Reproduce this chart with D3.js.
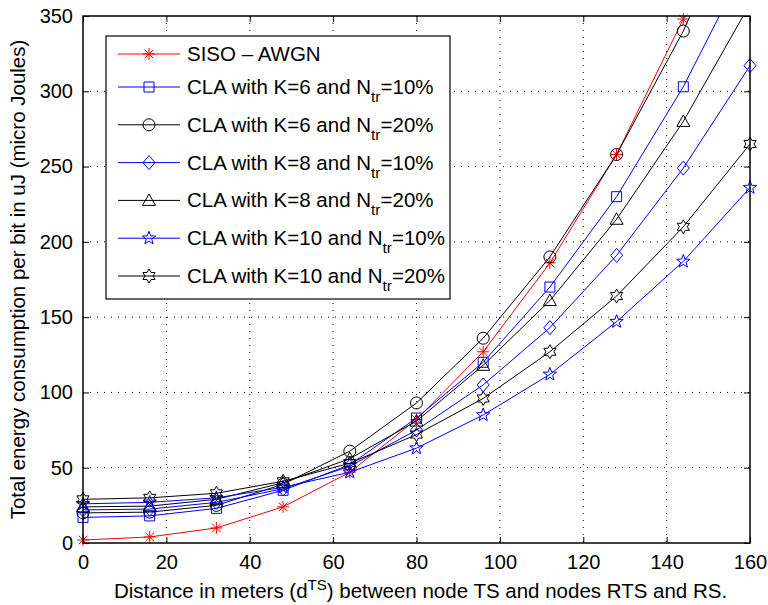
<!DOCTYPE html>
<html>
<head>
<meta charset="utf-8">
<script src="https://cdn.jsdelivr.net/npm/d3@7"></script>
<style>
  body { margin: 0; background: #fff; }
  svg { display: block; }
  text { font-family: "Liberation Sans", Arial, Helvetica, sans-serif; fill: #000; }
</style>
</head>
<body>
<div id="chart"></div>
<script>
// Energy per bit vs TS distance: SISO baseline plus six CLA configurations
// (K = 6/8/10 cooperating nodes, N_tr = 10%/20% training overhead).

const DISTANCES = [0, 16, 32, 48, 64, 80, 96, 112, 128, 144, 160];

const SISO_AWGN = [2, 4, 10, 24, 47, 82, 127, 186, 258, 348, 460];
const K6_N10 = [17, 18, 23, 35, 52, 83, 120, 170, 230, 303, 390];
const K6_N20 = [20, 20.5, 25, 39, 61, 93, 136, 190, 258, 340, 440];
const K8_N10 = [22, 22.5, 27, 36, 51, 75, 105, 143, 191, 249, 317];
const K8_N20 = [24, 24.5, 29, 40, 56, 81, 118, 161, 215, 280, 358];
const K10_N10 = [26, 27, 30, 37, 47, 63, 85, 112, 147, 187, 236];
const K10_N20 = [29, 30, 33, 41, 53, 72, 96, 127, 164, 210, 265];

const X_TICKS = [0, 20, 40, 60, 80, 100, 120, 140, 160];
const Y_TICKS = [0, 50, 100, 150, 200, 250, 300, 350];

const SERIES = [
  { label: 'SISO – AWGN', values: SISO_AWGN, color: '#ff0000', marker: 'asterisk' },
  { label: 'CLA with K=6 and N', sub: 'tr', tail: '=10%', values: K6_N10, color: '#0000ff', marker: 'square' },
  { label: 'CLA with K=6 and N', sub: 'tr', tail: '=20%', values: K6_N20, color: '#000000', marker: 'circle' },
  { label: 'CLA with K=8 and N', sub: 'tr', tail: '=10%', values: K8_N10, color: '#0000ff', marker: 'diamond' },
  { label: 'CLA with K=8 and N', sub: 'tr', tail: '=20%', values: K8_N20, color: '#000000', marker: 'triangle' },
  { label: 'CLA with K=10 and N', sub: 'tr', tail: '=10%', values: K10_N10, color: '#0000ff', marker: 'pentagram' },
  { label: 'CLA with K=10 and N', sub: 'tr', tail: '=20%', values: K10_N20, color: '#000000', marker: 'hexagram' },
];

const width = 768;
const height = 605;
const margin = { top: 16, right: 18, bottom: 62, left: 83 };
const innerW = width - margin.left - margin.right;
const innerH = height - margin.top - margin.bottom;

const svg = d3.select('#chart').append('svg').attr('width', width).attr('height', height);
const g = svg.append('g').attr('transform', `translate(${margin.left},${margin.top})`);

const x = d3.scaleLinear().domain([0, 160]).range([0, innerW]);
const y = d3.scaleLinear().domain([0, 350]).range([innerH, 0]);

svg.append('defs').append('clipPath').attr('id', 'plot-clip')
  .append('rect').attr('width', innerW).attr('height', innerH);

// dotted grid, MATLAB style
const grid = g.append('g').attr('stroke', '#000').attr('stroke-width', 1).attr('stroke-dasharray', '1,6');
X_TICKS.slice(1, -1).forEach((t) => {
  grid.append('line').attr('x1', x(t)).attr('x2', x(t)).attr('y1', 0).attr('y2', innerH);
});
Y_TICKS.slice(1, -1).forEach((t) => {
  grid.append('line').attr('x1', 0).attr('x2', innerW).attr('y1', y(t)).attr('y2', y(t));
});

// axes with inward ticks on all four sides
const tickLen = 6;
const axisStyle = (sel) => {
  sel.select('.domain').remove();
  sel.selectAll('.tick line').attr('stroke', '#000').attr('stroke-width', 1);
  sel.selectAll('.tick text').style('font-size', '20px').attr('fill', '#000');
};
g.append('g').attr('transform', `translate(0,${innerH})`)
  .call(d3.axisBottom(x).tickValues(X_TICKS).tickSizeInner(-tickLen).tickSizeOuter(0).tickPadding(12))
  .call(axisStyle);
g.append('g')
  .call(d3.axisLeft(y).tickValues(Y_TICKS).tickSizeInner(-tickLen).tickSizeOuter(0).tickPadding(10))
  .call(axisStyle);
g.append('g')
  .call(d3.axisTop(x).tickValues(X_TICKS).tickSizeInner(-tickLen).tickSizeOuter(0).tickFormat(''))
  .call(axisStyle);
g.append('g').attr('transform', `translate(${innerW},0)`)
  .call(d3.axisRight(y).tickValues(Y_TICKS).tickSizeInner(-tickLen).tickSizeOuter(0).tickFormat(''))
  .call(axisStyle);

// marker shapes, centered at origin
function markerPath(type) {
  const p = d3.path();
  if (type === 'asterisk') {
    const r = 6, d = 4.3;
    p.moveTo(-r, 0); p.lineTo(r, 0);
    p.moveTo(0, -r); p.lineTo(0, r);
    p.moveTo(-d, -d); p.lineTo(d, d);
    p.moveTo(-d, d); p.lineTo(d, -d);
  } else if (type === 'square') {
    p.rect(-5, -5, 10, 10);
  } else if (type === 'circle') {
    p.moveTo(6, 0); p.arc(0, 0, 6, 0, 2 * Math.PI);
  } else if (type === 'diamond') {
    p.moveTo(0, -7); p.lineTo(6, 0); p.lineTo(0, 7); p.lineTo(-6, 0); p.closePath();
  } else if (type === 'triangle') {
    p.moveTo(0, -6.5); p.lineTo(6.5, 5); p.lineTo(-6.5, 5); p.closePath();
  } else if (type === 'pentagram' || type === 'hexagram') {
    const n = type === 'pentagram' ? 5 : 6;
    const ro = 7;
    const ri = type === 'pentagram' ? 2.9 : ro / Math.sqrt(3);
    for (let i = 0; i < 2 * n; i++) {
      const a = -Math.PI / 2 + (i * Math.PI) / n;
      const r = i % 2 === 0 ? ro : ri;
      if (i === 0) p.moveTo(r * Math.cos(a), r * Math.sin(a));
      else p.lineTo(r * Math.cos(a), r * Math.sin(a));
    }
    p.closePath();
  }
  return p.toString();
}

const line = d3.line().x((d) => x(d.x)).y((d) => y(d.v));

SERIES.forEach((s) => {
  const pts = DISTANCES.map((dx, i) => ({ x: dx, v: s.values[i] }));
  g.append('path')
    .datum(pts)
    .attr('clip-path', 'url(#plot-clip)')
    .attr('fill', 'none')
    .attr('stroke', s.color)
    .attr('stroke-width', 1)
    .attr('d', line);
  g.append('g').selectAll('path')
    .data(pts.filter((d) => d.v <= 350))
    .join('path')
    .attr('transform', (d) => `translate(${x(d.x)},${y(d.v)})`)
    .attr('d', markerPath(s.marker))
    .attr('fill', 'none')
    .attr('stroke', s.color)
    .attr('stroke-width', 1);
});

// frame
g.append('rect').attr('width', innerW).attr('height', innerH)
  .attr('fill', 'none').attr('stroke', '#000').attr('stroke-width', 1.5);

// legend
const lg = g.append('g').attr('transform', 'translate(23,20)');
lg.append('rect').attr('width', 344).attr('height', 263)
  .attr('fill', '#fff').attr('stroke', '#000').attr('stroke-width', 1.2);
SERIES.forEach((s, i) => {
  const ry = i === 0 ? 18 : 51 + (i - 1) * 37.8;
  const row = lg.append('g').attr('transform', `translate(0,${ry})`);
  row.append('line').attr('x1', 12).attr('x2', 74).attr('stroke', s.color).attr('stroke-width', 1);
  row.append('path').attr('transform', 'translate(43,0)').attr('d', markerPath(s.marker))
    .attr('fill', 'none').attr('stroke', s.color);
  const t = row.append('text').attr('x', 81).attr('y', 7).style('font-size', '20.5px');
  t.append('tspan').text(s.label);
  if (s.sub) {
    t.append('tspan').attr('dy', 8).style('font-size', '15.5px').text(s.sub);
    t.append('tspan').attr('dy', -8).text(s.tail);
  }
});

// axis labels
const xl = svg.append('text')
  .attr('x', margin.left + innerW / 2 + 4).attr('y', 598)
  .attr('text-anchor', 'middle').style('font-size', '20.5px');
xl.append('tspan').text('Distance in meters (d');
xl.append('tspan').attr('dy', -8).style('font-size', '15px').text('TS');
xl.append('tspan').attr('dy', 8).text(') between node TS and nodes RTS and RS.');

svg.append('text')
  .attr('transform', `translate(25,${margin.top + innerH / 2}) rotate(-90)`)
  .attr('text-anchor', 'middle').style('font-size', '20.5px')
  .text('Total energy consumption per bit in uJ (micro Joules)');
</script>
</body>
</html>
